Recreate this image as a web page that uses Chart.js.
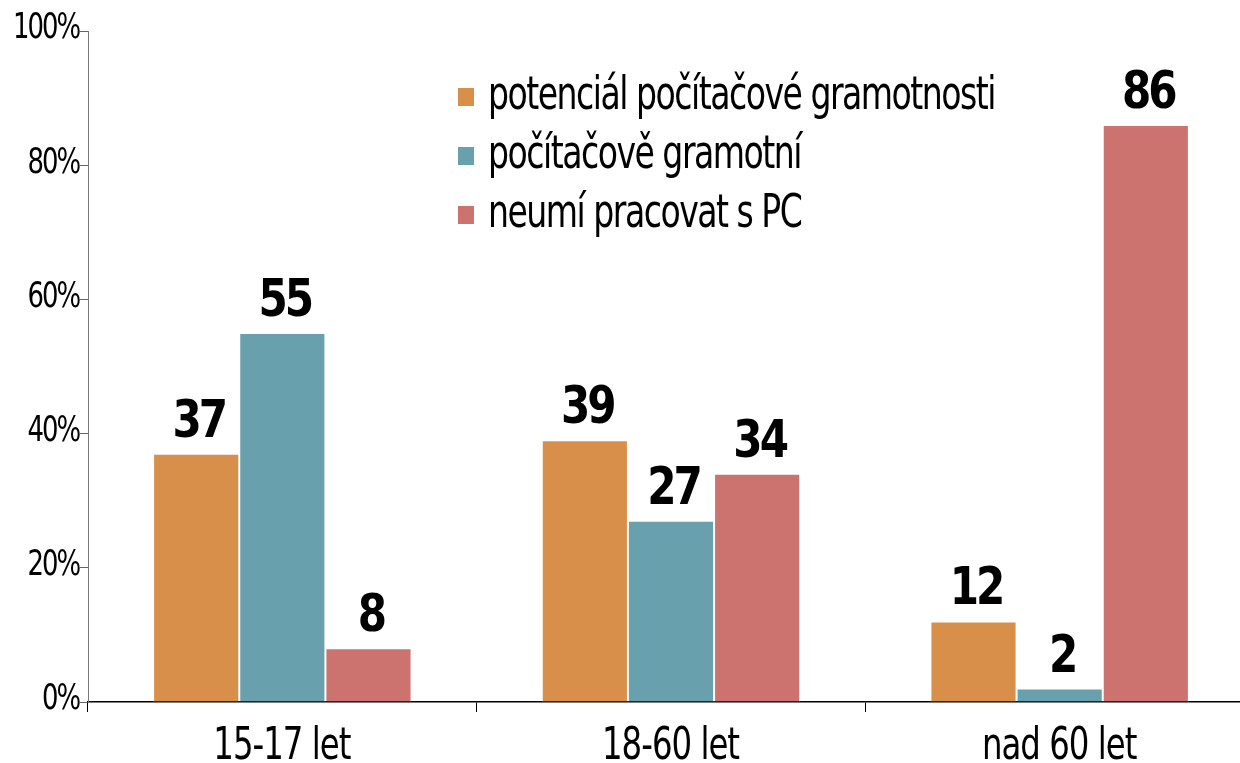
<!DOCTYPE html>
<html><head><meta charset="utf-8">
<script src="https://cdn.jsdelivr.net/npm/chart.js@4.4.1/dist/chart.umd.min.js"></script>
<style>html,body{margin:0;padding:0;background:#fff;overflow:hidden;width:1240px;height:763px}canvas{display:block}</style>
</head><body>
<canvas id="c" width="1254" height="763"></canvas>
<script>
const categories = ['15-17 let', '18-60 let', 'nad 60 let'];
const seriesNames = ['potenciál počítačové gramotnosti', 'počítačově gramotní', 'neumí pracovat s PC'];
const potencial = [37, 39, 12];
const gramotni = [55, 27, 2];
const neumi = [8, 34, 86];
const yTicks = [0, 20, 40, 60, 80, 100];
const colors = ['#D88F4A', '#68A0AE', '#CC7370'];

const FONT = '"DejaVu Sans Condensed", "DejaVu Sans", sans-serif';

// draw text horizontally squeezed (sx) with extra letter spacing (sp, in output px)
function drawTight(ctx, text, x, y, align, sx, sp) {
  const chars = Array.from(text);
  const widths = chars.map(c => ctx.measureText(c).width * sx);
  const total = widths.reduce((a, b) => a + b, 0) + sp * (chars.length - 1);
  let start = align === 'center' ? x - total / 2 : align === 'right' ? x - total : x;
  ctx.save();
  ctx.textAlign = 'left';
  chars.forEach((c, i) => {
    ctx.save();
    ctx.translate(start, y);
    ctx.scale(sx, 1);
    ctx.fillText(c, 0, 0);
    ctx.restore();
    start += widths[i] + sp;
  });
  ctx.restore();
}

const textPlugin = {
  id: 'texts',
  afterDraw(chart) {
    const ctx = chart.ctx;
    const xs = chart.scales.x, ys = chart.scales.y;
    ctx.save();
    ctx.fillStyle = '#000';
    // y tick labels
    ctx.font = '36px ' + FONT;
    ctx.textBaseline = 'middle';
    yTicks.forEach(v => drawTight(ctx, v + '%', 81, ys.getPixelForValue(v) - 2, 'right', 0.8, -2));
    // x category labels
    ctx.font = '45px ' + FONT;
    ctx.textBaseline = 'alphabetic';
    categories.forEach((c, i) => drawTight(ctx, c, xs.getPixelForValue(i), 759, 'center', 0.8, -1));
    // value labels
    ctx.font = 'bold 52px ' + FONT;
    chart.data.datasets.forEach((ds, i) => {
      chart.getDatasetMeta(i).data.forEach((bar, j) => {
        drawTight(ctx, String(ds.data[j]), bar.x + 4, bar.y - 17, 'center', 0.9, -3);
      });
    });
    // legend
    ctx.font = '46px ' + FONT;
    ctx.textBaseline = 'middle';
    const ly = [97, 156, 215];
    chart.data.datasets.forEach((ds, i) => {
      ctx.fillStyle = ds.backgroundColor;
      ctx.fillRect(458, ly[i] - 9, 16, 18);
      ctx.fillStyle = '#000';
      drawTight(ctx, ds.label, 488, ly[i], 'left', 0.8, -1.5);
    });
    ctx.restore();
  }
};

new Chart(document.getElementById('c'), {
  type: 'bar',
  data: {
    labels: categories,
    datasets: [
      { label: seriesNames[0], data: potencial, backgroundColor: colors[0] },
      { label: seriesNames[1], data: gramotni, backgroundColor: colors[1] },
      { label: seriesNames[2], data: neumi, backgroundColor: colors[2] }
    ]
  },
  options: {
    responsive: false,
    devicePixelRatio: 1,
    animation: false,
    layout: { padding: { top: 31, right: 0, left: 0, bottom: 0 } },
    datasets: { bar: { categoryPercentage: 0.665, barPercentage: 1, borderWidth: 1, borderColor: 'rgba(255,255,255,0.85)' } },
    plugins: { legend: { display: false }, tooltip: { enabled: false }, title: { display: false } },
    scales: {
      x: {
        afterFit(s){ s.height = 61; },
        grid: { display: true, drawOnChartArea: false, offset: true, tickLength: 10, color: '#000', lineWidth: 1 },
        border: { display: true, color: '#000', width: 1.5 },
        ticks: { display: false }
      },
      y: {
        min: 0, max: 100,
        afterFit(s){ s.width = 88; },
        afterBuildTicks(s){ s.ticks = yTicks.map(v => ({ value: v })); },
        grid: { display: true, drawOnChartArea: false, tickLength: 8, color: '#666' },
        border: { display: true, color: '#777', width: 1 },
        ticks: { display: false }
      }
    }
  },
  plugins: [textPlugin]
});
</script>
</body></html>
